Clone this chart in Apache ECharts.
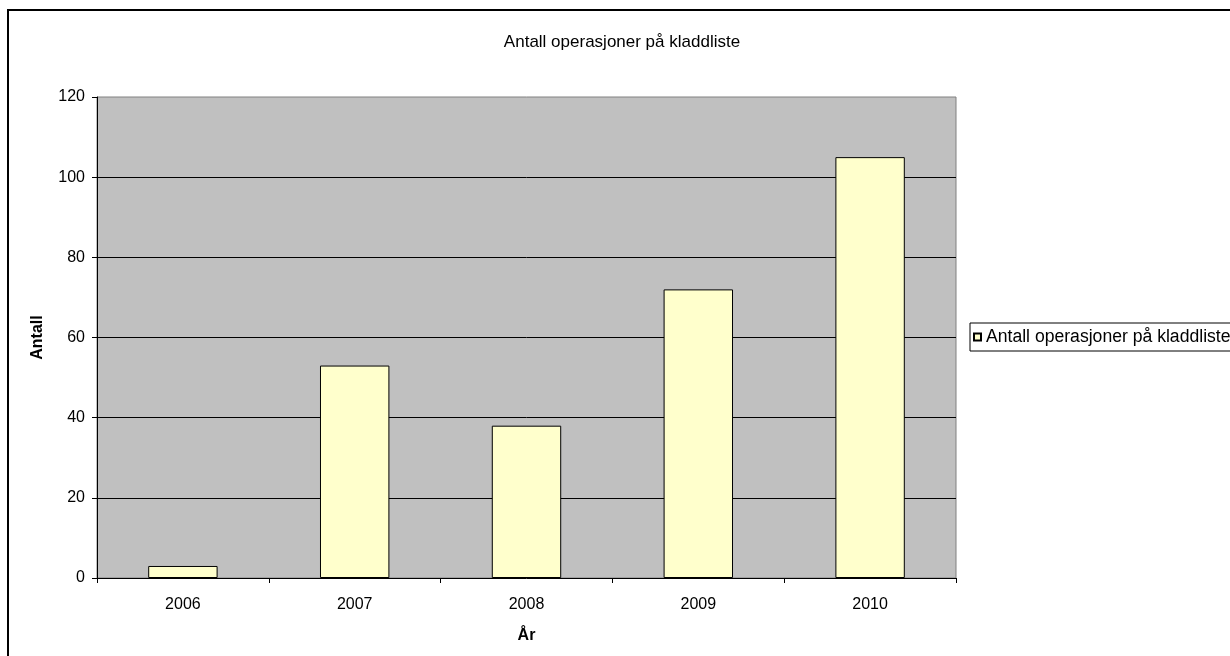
<!DOCTYPE html>
<html>
<head>
<meta charset="utf-8">
<script src="https://cdn.jsdelivr.net/npm/echarts@6/dist/echarts.min.js"></script>
<style>
  html, body { margin: 0; padding: 0; background: #fff; }
  #chart { width: 1230px; height: 656px; }
</style>
</head>
<body>
<div id="chart"></div>
<script>
// Data
const chartTitle = 'Antall operasjoner på kladdliste';
const seriesName = 'Antall operasjoner på kladdliste';
const years = ['2006', '2007', '2008', '2009', '2010'];
const counts = [3, 53, 38, 72, 105];
const yTicks = { min: 0, max: 120, interval: 20 };
const xAxisTitle = 'År';
const yAxisTitle = 'Antall';

const FONT = '"Liberation Sans", Arial, sans-serif';

const chart = echarts.init(document.getElementById('chart'), null, { renderer: 'canvas' });

chart.setOption({
  animation: false,
  backgroundColor: '#ffffff',
  textStyle: { fontFamily: FONT, color: '#000' },
  // outer chart frame
  graphic: [{
    type: 'rect',
    shape: { x: 8, y: 10, width: 1300, height: 700 },
    style: { fill: 'none', stroke: '#000', lineWidth: 2 },
    silent: true,
    z: -10
  }],
  title: {
    text: chartTitle,
    left: 622,
    top: 34,
    textAlign: 'center',
    padding: 0,
    textStyle: { fontFamily: FONT, fontSize: 17, fontWeight: 'normal', color: '#000' }
  },
  legend: {
    data: [seriesName],
    left: 970,
    top: 323,
    orient: 'vertical',
    padding: [5, 12, 5, 3],
    itemWidth: 7,
    itemHeight: 7,
    icon: 'rect',
    borderColor: '#000',
    borderWidth: 1,
    backgroundColor: '#fff',
    textStyle: { fontFamily: FONT, fontSize: 17.6, color: '#000' }
  },
  grid: {
    left: 97,
    right: 274,
    top: 97,
    bottom: 78,
    show: true,
    backgroundColor: '#C0C0C0',
    borderColor: '#808080',
    borderWidth: 1,
    containLabel: false
  },
  xAxis: {
    type: 'category',
    data: years,
    boundaryGap: true,
    name: xAxisTitle,
    nameLocation: 'middle',
    nameGap: 50,
    nameTextStyle: { fontFamily: FONT, fontSize: 16, fontWeight: 'bold', color: '#000' },
    axisLine: { show: true, lineStyle: { color: '#000', width: 1 } },
    axisTick: { show: true, alignWithLabel: false, length: 5, inside: false, lineStyle: { color: '#000' } },
    axisLabel: { fontFamily: FONT, fontSize: 16, color: '#000', margin: 19 },
    splitLine: { show: false }
  },
  yAxis: {
    type: 'value',
    min: yTicks.min,
    max: yTicks.max,
    interval: yTicks.interval,
    name: yAxisTitle,
    nameLocation: 'middle',
    nameRotate: 90,
    nameGap: 51,
    nameTextStyle: { fontFamily: FONT, fontSize: 16, fontWeight: 'bold', color: '#000' },
    axisLine: { show: true, lineStyle: { color: '#000', width: 1 } },
    axisTick: { show: true, length: 5, inside: false, lineStyle: { color: '#000' } },
    axisLabel: { fontFamily: FONT, fontSize: 16, color: '#000', margin: 12 },
    splitLine: { show: true, showMinLine: false, showMaxLine: false, lineStyle: { color: '#000', width: 1 } }
  },
  series: [{
    name: seriesName,
    type: 'bar',
    data: counts,
    barWidth: '40.4%',
    itemStyle: { color: '#FFFFCC', borderColor: '#000', borderWidth: 1 }
  }]
});
</script>
</body>
</html>
